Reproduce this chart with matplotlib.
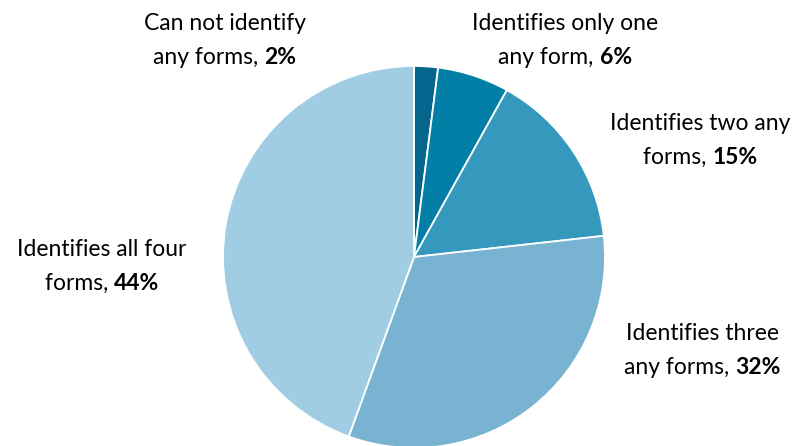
import matplotlib
matplotlib.use("Agg")
import matplotlib.pyplot as plt

labels = ["Can not identify\nany forms, ", "Identifies only one\nany form, ",
          "Identifies two any\nforms, ", "Identifies three\nany forms, ",
          "Identifies all four\nforms, "]
values = [2, 6, 15, 32, 44]
colors = ["#05668d", "#037ea6", "#3598bd", "#78b4d1", "#a1cde4"]

plt.rcParams["font.family"] = ["Lato", "DejaVu Sans"]

W, H = 801, 446
fig = plt.figure(figsize=(W / 100, H / 100), dpi=100)
cx, cy, r = 414, 257, 191
ax = fig.add_axes([(cx - r) / W, (H - cy - r) / H, 2 * r / W, 2 * r / H])
ax.pie(values, colors=colors, startangle=90, counterclock=False, radius=1,
       wedgeprops=dict(edgecolor="white", linewidth=1.3))
ax.set_xlim(-1, 1)
ax.set_ylim(-1, 1)
ax.set_aspect("equal")
ax.axis("off")

renderer = fig.canvas.get_renderer()

# label anchor positions in pixels (centre of each two-line block)
pos = [(225, 40), (565, 40), (700, 140), (702, 350), (102, 266)]
fs = 16.5
for lab, v, (px, py) in zip(labels, values, pos):
    first, second = lab.split("\n")
    y1 = 1 - (py - 16) / H
    y2 = 1 - (py + 17) / H
    fig.text(px / W, y1, first, ha="center", va="center", fontsize=fs, color="black")
    t1 = fig.text(0, y2, second, ha="left", va="center", fontsize=fs, color="black")
    t2 = fig.text(0, y2, f"{v}%", ha="left", va="center", fontsize=fs,
                  fontweight="bold", color="black")
    w1 = t1.get_window_extent(renderer).width
    # measure trailing space separately since extents trim it
    w1 = fig.text(0, 0, second.rstrip() + "\u00a0", fontsize=fs).get_window_extent(renderer).width
    fig.texts[-1].remove()
    w2 = t2.get_window_extent(renderer).width
    left = px - (w1 + w2) / 2
    t1.set_x(left / W)
    t2.set_x((left + w1) / W)

fig.savefig("out.png", dpi=100)
